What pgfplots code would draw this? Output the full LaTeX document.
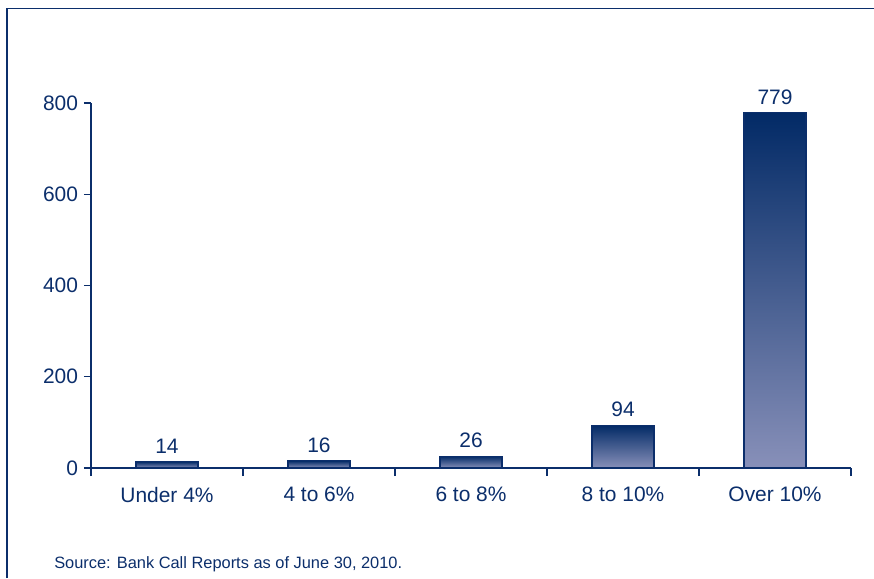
\documentclass[border=0pt]{standalone}
\usepackage{fontspec}
\setmainfont{Liberation Sans}
\usepackage{pgfplots}
\pgfplotsset{compat=1.18}
\definecolor{navy}{HTML}{0B2E6B}
\definecolor{bartop}{HTML}{022A66}
\definecolor{barbot}{HTML}{8890B9}
\pgfplotsset{barst/.style={draw=navy, line width=0.8pt, top color=bartop, bottom color=barbot}}

\begin{document}
\begin{tikzpicture}[x=0.75pt,y=0.75pt]
% canvas and open frame
\path[use as bounding box] (0,0) rectangle (874,-578);
\draw[navy, line width=1.3pt] (7,-578) -- (7,-8.5) -- (874,-8.5);
\begin{axis}[
    at={(68.25pt,-351pt)}, anchor=south west,
    scale only axis,
    width=570pt, height=273.75pt,
    xmin=-0.5, xmax=4.5, ymin=0, ymax=800,
    axis x line*=bottom, axis y line*=left,
    axis line style={navy, line width=0.9pt, -},
    tick style={navy, line width=0.9pt},
    xtick={0,...,4},
    xticklabels={Under 4\%, 4 to 6\%, 6 to 8\%, 8 to 10\%, Over 10\%},
    major x tick style={draw=none},
    minor xtick={-0.5,0.5,...,4.5},
    xtick align=outside, ytick align=outside,
    minor tick length=6pt, major tick length=5.25pt,
    ytick={0,200,...,800},
    tick label style={font=\fontsize{15.7}{18}\selectfont, text=navy},
    /pgf/number format/assume math mode=true,
    xticklabel style={yshift=-5.5pt},
    yticklabel style={xshift=-1pt},
    ybar, bar width=46.5pt, bar shift=0pt,
    nodes near coords,
    every node near coord/.append style={font=\fontsize{15.7}{18}\selectfont, text=navy, yshift=2.5pt},
    clip=false,
]
% one plot per bar so that each bar gets its own gradient
\addplot[barst] coordinates {(0,14)};
\addplot[barst] coordinates {(1,16)};
\addplot[barst] coordinates {(2,26)};
\addplot[barst] coordinates {(3,94)};
\addplot[barst] coordinates {(4,779)};
\end{axis}
\node[anchor=base west, text=navy, font=\fontsize{12.3}{14}\selectfont, inner sep=0pt] at (54,-568) {Source: Bank Call Reports as of June 30, 2010.};
\end{tikzpicture}
\end{document}
